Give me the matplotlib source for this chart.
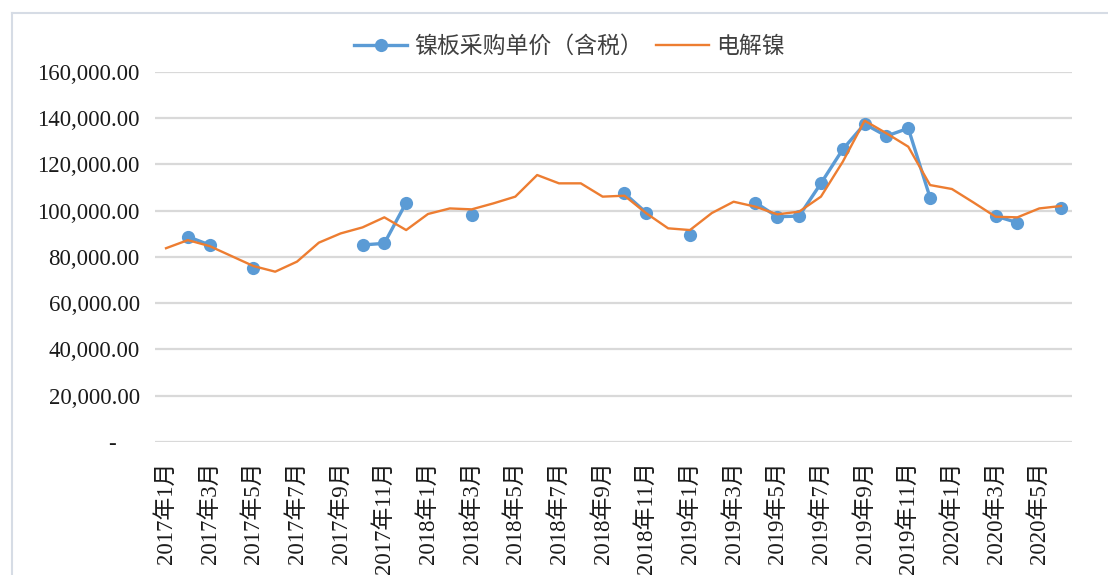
"""Nickel plate purchase price vs. electrolytic nickel, monthly."""

import numpy as np
import matplotlib
matplotlib.use("Agg")
import matplotlib.pyplot as plt
from matplotlib.lines import Line2D

plt.rcParams["font.family"] = ["Liberation Serif", "Noto Sans CJK SC", "DejaVu Sans"]

nan = np.nan

# 2017年1月 .. 2020年6月
months = [f"{y}年{m}月" for y in (2017, 2018, 2019, 2020) for m in range(1, 13)][:42]

plate_price = [
    nan, 88800, 85200, nan, 75100, nan, nan, nan, nan, 85200, 85900, 103500,
    nan, nan, 98150, nan, nan, nan, nan, nan, nan, 107500, 99150, nan,
    89500, nan, nan, 103500, 97400, 97700, 111850, 126550, 137500, 132300, 135650, 105650,
    nan, nan, 97700, 94850, nan, 101000,
]

electrolytic = [
    83800, 87300, 84700, 80400, 76100, 73650, 78000, 86200, 90200, 92800, 97150, 91650,
    98600, 101000, 100600, 103200, 106100, 115450, 111850, 111850, 106100, 106500, 98900, 92400,
    91650, 99000, 103900, 101750, 98450, 99600, 106100, 121200, 138950, 133500, 127700, 111100,
    109400, 103500, 97400, 97150, 101000, 102050,
]

y_ticks = [0, 20000, 40000, 60000, 80000, 100000, 120000, 140000, 160000]
y_labels = ["-    "] + [f"{v:,.2f}" for v in y_ticks[1:]]

BLUE = "#5B9BD5"
ORANGE = "#ED7D31"
GRID = "#d9d9d9"

fig = plt.figure(figsize=(11.08, 5.75), dpi=100)
ax = fig.add_axes([0.140, 0.2313, 0.8275, 0.6435])

x = np.arange(len(months))
ax.plot(x, plate_price, color=BLUE, lw=2.4, marker="o", ms=9.5,
        markeredgewidth=0, zorder=3)
ax.plot(x, electrolytic, color=ORANGE, lw=1.7, zorder=4)

ax.set_xlim(-0.5, len(months) - 0.5)
ax.set_ylim(0, 160000)
ax.set_yticks(y_ticks)
ax.set_yticklabels(y_labels)
ax.set_xticks(x[::2])
ax.set_xticklabels(months[::2], rotation=90, va="top", ha="center")

ax.grid(axis="y", color=GRID, lw=1.6)
ax.set_axisbelow(True)
for s in ax.spines.values():
    s.set_visible(False)
ax.tick_params(length=0, labelsize=16.5, colors="#1a1a1a")
ax.tick_params(axis="y", pad=11)
ax.tick_params(axis="x", pad=14)

handles = [
    Line2D([], [], color=BLUE, lw=2.4, marker="o", ms=9.5, markeredgewidth=0),
    Line2D([], [], color=ORANGE, lw=1.7),
]
fig.legend(handles, ["镍板采购单价（含税）", "电解镍"], loc="center",
           bbox_to_anchor=(0.514, 1 - 47 / 575), ncol=2, frameon=False,
           fontsize=16.5, handlelength=2.3, handletextpad=0.3,
           columnspacing=0.6, labelcolor="#404040")

# chart area border (top and left edges)
fig.add_artist(Line2D([12 / 1108, 12 / 1108], [0, 1 - 13 / 575],
                      color="#d6dce5", lw=1.5, transform=fig.transFigure))
fig.add_artist(Line2D([12 / 1108, 1], [1 - 13 / 575, 1 - 13 / 575],
                      color="#d6dce5", lw=1.5, transform=fig.transFigure))

fig.savefig("out.png", dpi=100)
plt.close(fig)
